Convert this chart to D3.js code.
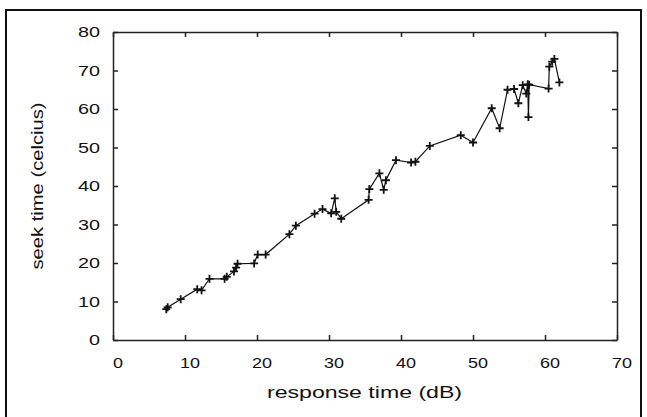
<!DOCTYPE html>
<html>
<head>
<meta charset="utf-8">
<script src="https://cdn.jsdelivr.net/npm/d3@7"></script>
<style>
  body { margin: 0; background: #fff; }
  text { font-family: "Liberation Sans", Arial, sans-serif; fill: #111; }
</style>
</head>
<body>
<div id="chart"></div>
<script>
// Data
var responseTime = [7.4, 7.6, 9.4, 11.7, 12.3, 13.4, 15.5, 15.8, 16.8, 17.1, 17.3, 19.6, 20.1, 21.2,
    24.5, 25.4, 28.0, 29.1, 30.3, 30.8, 31.0, 31.7, 35.5, 35.6, 37.0, 37.6, 37.9, 39.3, 41.4, 42.0,
    44.0, 48.3, 50.0, 52.6, 53.7, 54.8, 55.7, 56.3, 56.9, 57.4, 57.6, 57.7, 57.8, 60.5, 60.6, 61.0,
    61.3, 62.0];
var seekTime = [8.0, 8.5, 10.6, 13.2, 12.9, 15.9, 15.9, 16.4, 17.8, 18.8, 19.8, 19.9, 22.2, 22.2,
    27.5, 29.7, 32.8, 34.0, 32.9, 36.8, 33.3, 31.5, 36.4, 39.2, 43.3, 39.0, 41.5, 46.7, 46.1, 46.3,
    50.4, 53.2, 51.3, 60.2, 55.0, 65.0, 65.2, 61.5, 66.2, 64.0, 66.4, 57.9, 66.3, 65.3, 71.0, 72.3,
    73.0, 66.9];
var xTicks = [0, 10, 20, 30, 40, 50, 60, 70];
var yTicks = [0, 10, 20, 30, 40, 50, 60, 70, 80];

var points = responseTime.map(function(x, i) { return {x: x, y: seekTime[i]}; });

// SVG area
var svgWidth = 647;
var svgHeight = 417;
var margin = {top: 32, right: 30, bottom: 77, left: 113};
var width = 617 - margin.left;
var height = 340 - margin.top;

var svg = d3.select("#chart")
    .append("svg")
    .attr("width", svgWidth)
    .attr("height", svgHeight);

// outer frame (no bottom edge visible)
svg.append("path")
    .attr("d", "M6,417 V10 H641 V417")
    .attr("fill", "none")
    .attr("stroke", "#111")
    .attr("stroke-width", 2);

var chartGroup = svg.append("g").attr("transform", `translate(${margin.left}, ${margin.top})`);

// Scales
var xScale = d3.scaleLinear().domain([0, 70]).range([0, width]);
var yScale = d3.scaleLinear().domain([0, 80]).range([height, 0]);

// Axes: inward ticks on all four sides
var tickLen = 5;
chartGroup.append("g")
    .attr("transform", `translate(0, ${height})`)
    .call(d3.axisBottom(xScale).tickValues(xTicks).tickSizeInner(-tickLen).tickSizeOuter(0).tickFormat(""));
chartGroup.append("g")
    .call(d3.axisTop(xScale).tickValues(xTicks).tickSizeInner(-tickLen).tickSizeOuter(0).tickFormat(""));
chartGroup.append("g")
    .call(d3.axisLeft(yScale).tickValues(yTicks).tickSizeInner(-tickLen).tickSizeOuter(0).tickFormat(""));
chartGroup.append("g")
    .attr("transform", `translate(${width}, 0)`)
    .call(d3.axisRight(yScale).tickValues(yTicks).tickSizeInner(-tickLen).tickSizeOuter(0).tickFormat(""));

chartGroup.selectAll(".domain").attr("stroke", "#222").attr("stroke-width", 1.5);
chartGroup.selectAll(".tick line").attr("stroke", "#222").attr("stroke-width", 1.5);

// Tick labels
chartGroup.selectAll(".xlab")
    .data(xTicks)
    .enter()
    .append("text")
    .attr("class", "xlab")
    .attr("x", d => xScale(d) + 5)
    .attr("y", height + 28)
    .attr("text-anchor", "middle")
    .attr("font-size", 15)
    .attr("textLength", d => String(d).length * 10)
    .attr("lengthAdjust", "spacingAndGlyphs")
    .text(d => d);

chartGroup.selectAll(".ylab")
    .data(yTicks)
    .enter()
    .append("text")
    .attr("class", "ylab")
    .attr("x", -13)
    .attr("y", d => yScale(d) + 5)
    .attr("text-anchor", "end")
    .attr("font-size", 15)
    .attr("textLength", d => String(d).length * 11)
    .attr("lengthAdjust", "spacingAndGlyphs")
    .text(d => d);

// Axis titles
chartGroup.append("text")
    .attr("x", (267 + 462) / 2 - margin.left)
    .attr("y", height + 58)
    .attr("text-anchor", "middle")
    .attr("font-size", 16)
    .attr("fill", "#222")
    .attr("textLength", 195)
    .attr("lengthAdjust", "spacingAndGlyphs")
    .text("response time (dB)");

chartGroup.append("text")
    .attr("transform", `translate(${43 - margin.left}, ${height / 2}) rotate(-90)`)
    .attr("text-anchor", "middle")
    .attr("font-size", 16)
    .attr("fill", "#222")
    .attr("textLength", 167)
    .attr("lengthAdjust", "spacingAndGlyphs")
    .text("seek time (celcius)");

// Line
var line = d3.line()
    .x(d => xScale(d.x))
    .y(d => yScale(d.y));

chartGroup.append("path")
    .datum(points)
    .attr("d", line)
    .attr("fill", "none")
    .attr("stroke", "#111")
    .attr("stroke-width", 1.2);

// Plus markers
var s = 4;
chartGroup.selectAll(".pt")
    .data(points)
    .enter()
    .append("path")
    .attr("class", "pt")
    .attr("d", d => {
        var cx = xScale(d.x), cy = yScale(d.y);
        return `M${cx - s},${cy}H${cx + s}M${cx},${cy - s}V${cy + s}`;
    })
    .attr("stroke", "#111")
    .attr("stroke-width", 1.8);
</script>
</body>
</html>
